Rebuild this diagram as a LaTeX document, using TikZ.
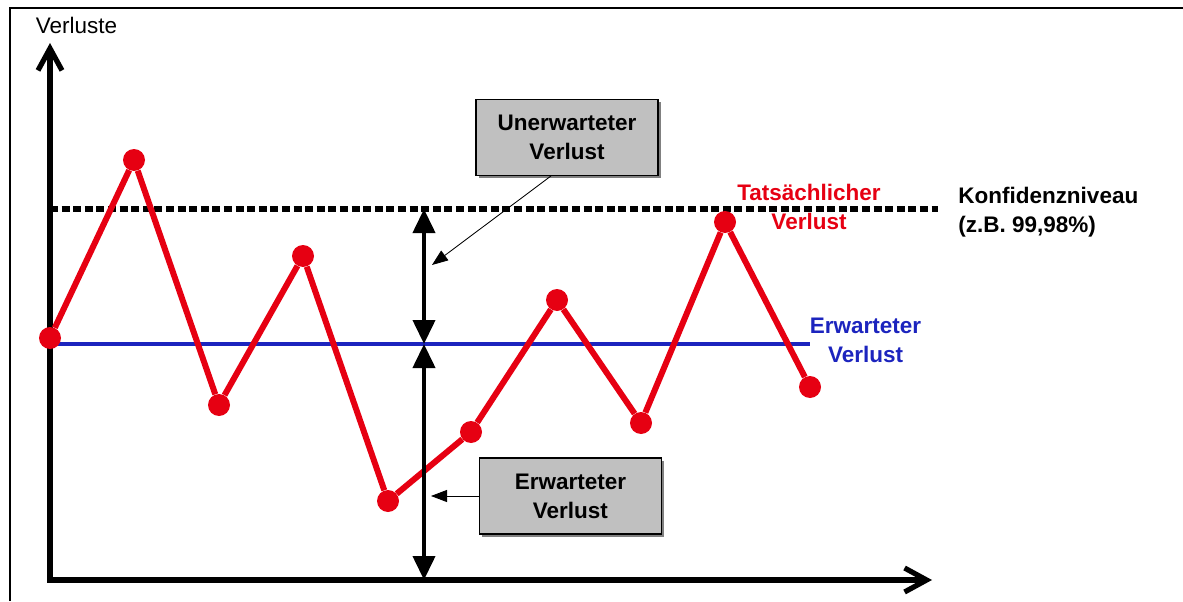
\documentclass[tikz,border=0pt]{standalone}
\usepackage{fontspec}
\setmainfont{Liberation Sans}
\usetikzlibrary{arrows.meta,shadows}
\definecolor{lossred}{RGB}{230,0,18}
\definecolor{meanblue}{RGB}{28,36,190}
\definecolor{boxgray}{RGB}{192,192,192}
\begin{document}
\begin{tikzpicture}[every path/.style={>=Triangle},
		every node/.style={font=\fontsize{16}{20.6}\selectfont\bfseries,align=center,inner sep=0pt},
		axis/.style={line width=0.13cm,line join=miter,{Straight Barb[length=0.55cm,width=0.6cm]}-{Straight Barb[length=0.55cm,width=0.6cm]}},
		span/.style={line width=0.1cm,{Triangle[length=0.6cm,width=0.55cm]}-{Triangle[length=0.6cm,width=0.55cm]}},
		note/.style={line width=0.6pt,-{Triangle[length=0.4cm,width=0.3cm]}},
		box/.style={draw,line width=0.8pt,fill=boxgray,minimum width=4.55cm,minimum height=1.9cm,drop shadow={shadow xshift=0.07cm,shadow yshift=-0.07cm,opacity=1,fill=black!50}},
		dot/.style={circle,fill=lossred,minimum size=0.55cm}]
		\useasboundingbox (0,0) rectangle (29.575,15.025);
		\draw[line width=0.05cm] (0.25,0) -- (0.25,14.825) -- (29.575,14.825);
		
		% axes
		\coordinate (o) at (1.25,0.525);
		\coordinate (ytop) at (1.25,13.95);
		\coordinate (xend) at (23.3,0.525);
		\draw[axis] (ytop) -- (o) -- (xend);
		\node[font=\fontsize{16}{20.6}\selectfont] (ylabel) at (1.91,14.4) {Verluste};
		
		% Konfidenzniveau und Erwartungswert
		\draw[line width=0.15cm,dash pattern=on 0.2cm off 0.09cm] (1.25,9.8) -- (23.45,9.8);
		\draw[meanblue,line width=0.1cm] (1.25,6.425) -- (20.25,6.425);
		
		% tatsaechlicher Verlauf
		\node[dot] (p1) at (1.25,6.575) {};
		\node[dot] (p2) at (3.35,11.025) {};
		\node[dot] (p3) at (5.475,4.9) {};
		\node[dot] (p4) at (7.575,8.625) {};
		\node[dot] (p5) at (9.7,2.5) {};
		\node[dot] (p6) at (11.775,4.225) {};
		\node[dot] (p7) at (13.925,7.525) {};
		\node[dot] (p8) at (16.025,4.45) {};
		\node[dot] (p9) at (18.125,9.475) {};
		\node[dot] (p10) at (20.25,5.35) {};
		\draw[lossred,line width=0.15cm] (p1) -- (p2) -- (p3) -- (p4) -- (p5) -- (p6) -- (p7) -- (p8) -- (p9) -- (p10);
		
		% Bereiche
		\coordinate (s-top) at (10.6,9.8);
		\coordinate (s-mid) at (10.6,6.425);
		\coordinate (s-bot) at (10.6,0.525);
		\draw[span] (s-top) -- (s-mid);
		\draw[span] (s-mid) -- (s-bot);
		
		\node[box] (unexp) at (14.175,11.59) {Unerwarteter\\Verlust};
		\node[box] (exp) at (14.26,2.625) {Erwarteter\\Verlust};
		\coordinate (unexp-end) at (10.8,8.4);
		\coordinate (exp-end) at (10.775,2.625);
		\draw[note] ([xshift=-0.4cm]unexp.south) -- (unexp-end);
		\draw[note] (exp) -- (exp-end);
		
		\node[text=lossred] (actual) at (20.225,9.84) {Tatsächlicher\\Verlust};
		\node[anchor=west,align=left] (conflvl) at (23.95,9.71) {Konfidenzniveau\\(z.B. 99,98\%)};
		\node[text=meanblue] (meanlbl) at (21.64,6.525) {Erwarteter\\Verlust};
	\end{tikzpicture}
\end{document}
